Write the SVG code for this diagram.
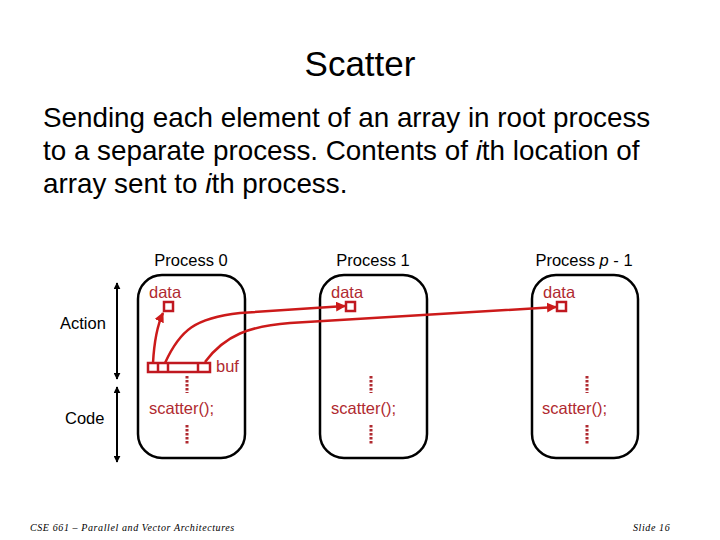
<svg xmlns="http://www.w3.org/2000/svg" width="720" height="540" viewBox="0 0 720 540">
<style>
text{font-family:"Liberation Sans",Arial,sans-serif}
.title{font-size:35px;fill:#000}
.body{font-size:27.8px;fill:#000}
.lbl{font-size:16.5px;fill:#000}
.red{font-size:16.5px;fill:#b02a30}
.proc{fill:none;stroke:#000;stroke-width:2.5}
.cell{fill:#fff;stroke:#c01820;stroke-width:2.5}
.dot{stroke:#b02a30;stroke-width:3;stroke-dasharray:2.5,1.5}
.flow{fill:none;stroke:#cc1a1a;stroke-width:2.5}
.dim{stroke:#000;stroke-width:2}
.foot{font-family:"Liberation Serif","Times New Roman",serif;font-style:italic;font-size:10px;letter-spacing:0.6px;fill:#000}
</style>
<defs>
<marker id="ah" viewBox="0 0 10 10" refX="9" refY="5" markerWidth="4" markerHeight="4" orient="auto" markerUnits="strokeWidth">
<path d="M0,0 L10,5 L0,10 z" fill="#cc1a1a"/>
</marker>
<marker id="bh" viewBox="0 0 10 10" refX="9" refY="5" markerWidth="3.5" markerHeight="3.5" orient="auto-start-reverse" markerUnits="strokeWidth">
<path d="M0,0 L10,5 L0,10 z" fill="#000"/>
</marker>
</defs>
<rect width="720" height="540" fill="#fff"/>
<text class="title" x="360" y="76" text-anchor="middle">Scatter</text>
<text class="body" x="43" y="127">Sending each element of an array in root process</text>
<text class="body" x="43" y="160">to a separate process. Contents of <tspan font-style="italic">i</tspan>th location of</text>
<text class="body" x="43" y="193">array sent to <tspan font-style="italic">i</tspan>th process.</text>

<g id="axis">
<line class="dim" x1="117" y1="283" x2="117" y2="379" marker-start="url(#bh)" marker-end="url(#bh)"/>
<line class="dim" x1="117" y1="387" x2="117" y2="462" marker-start="url(#bh)" marker-end="url(#bh)"/>
<text class="lbl" x="60" y="329">Action</text>
<text class="lbl" x="65" y="424">Code</text>
</g>

<g id="process0">
<text class="lbl" x="191" y="266" text-anchor="middle">Process 0</text>
<rect class="proc" x="138" y="275" width="107" height="183" rx="24"/>
<text class="red" x="149" y="298">data</text>
<rect class="cell" x="164" y="302" width="9" height="9"/>
<rect class="cell" x="148" y="363" width="62" height="9"/>
<line class="cell" x1="158" y1="363" x2="158" y2="372"/>
<line class="cell" x1="168" y1="363" x2="168" y2="372"/>
<line class="cell" x1="198" y1="363" x2="198" y2="372"/>
<text class="red" x="216" y="372">buf</text>
<line class="dot" x1="187" y1="376" x2="187" y2="393"/>
<text class="red" x="149" y="414">scatter();</text>
<line class="dot" x1="187" y1="425" x2="187" y2="445"/>
</g>

<g id="process1">
<text class="lbl" x="373" y="266" text-anchor="middle">Process 1</text>
<rect class="proc" x="320" y="275" width="107" height="183" rx="24"/>
<text class="red" x="331" y="298">data</text>
<rect class="cell" x="346" y="302" width="9" height="9"/>
<line class="dot" x1="371" y1="376" x2="371" y2="393"/>
<text class="red" x="331" y="414">scatter();</text>
<line class="dot" x1="371" y1="425" x2="371" y2="445"/>
</g>

<g id="processp">
<text class="lbl" x="584" y="266" text-anchor="middle">Process <tspan font-style="italic">p</tspan> -  1</text>
<rect class="proc" x="532" y="275" width="106" height="183" rx="24"/>
<text class="red" x="543" y="298">data</text>
<rect class="cell" x="557" y="302" width="9" height="9"/>
<line class="dot" x1="587" y1="376" x2="587" y2="393"/>
<text class="red" x="542" y="414">scatter();</text>
<line class="dot" x1="587" y1="425" x2="587" y2="445"/>
</g>

<g id="connectors">
<path class="flow" d="M153,363 C154,345 156,328 163,313" marker-end="url(#ah)"/>
<path class="flow" d="M165,363 C180,330 195,318 240,313 L345,306" marker-end="url(#ah)"/>
<path class="flow" d="M205,362 C225,335 250,326 290,323 L556,307" marker-end="url(#ah)"/>
</g>

<text class="foot" x="30" y="531">CSE 661 – Parallel and Vector Architectures</text>
<text class="foot" x="633" y="531">Slide 16</text>
</svg>
